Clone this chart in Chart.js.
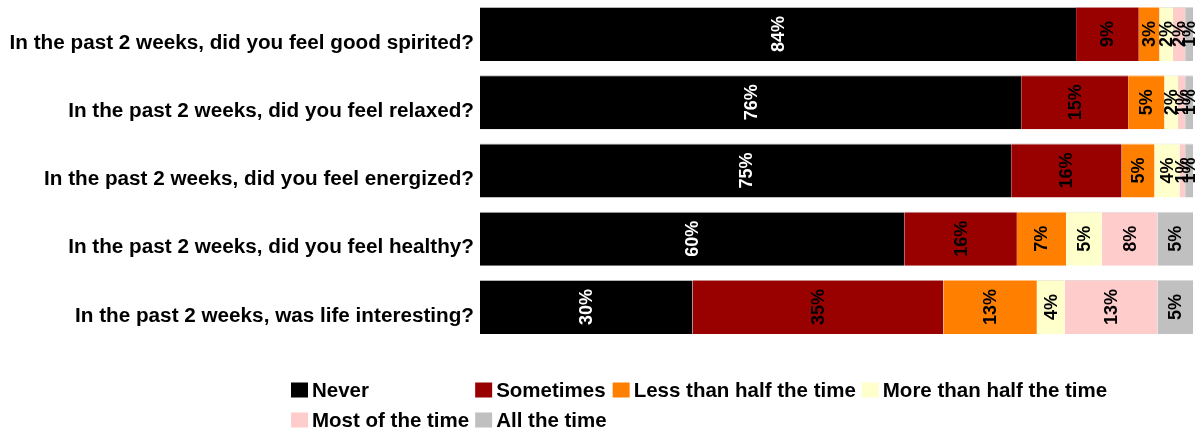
<!DOCTYPE html>
<html>
<head>
<meta charset="utf-8">
<script src="https://cdn.jsdelivr.net/npm/chart.js@4.4.1/dist/chart.umd.min.js"></script>
<style>
  html, body { margin: 0; padding: 0; background: #ffffff; }
  #wrap { width: 1201px; height: 432px; position: relative; }
</style>
</head>
<body>
<div id="wrap"><canvas id="chart" width="1201" height="432"></canvas></div>
<script>
// Survey questions (one horizontal bar each)
const questions = [
  'In the past 2 weeks, did you feel good spirited?',
  'In the past 2 weeks, did you feel relaxed?',
  'In the past 2 weeks, did you feel energized?',
  'In the past 2 weeks, did you feel healthy?',
  'In the past 2 weeks, was life interesting?'
];

// Answer categories, in stacking order
const answerNames = [
  'Never',
  'Sometimes',
  'Less than half the time',
  'More than half the time',
  'Most of the time',
  'All the time'
];

// Share of respondents (%) per answer, one value per question
const never         = [83.6, 75.9, 74.5, 59.5, 29.8];
const sometimes     = [8.8, 15.0, 15.5, 15.8, 35.2];
const lessThanHalf  = [2.9, 5.1, 4.6, 6.9, 13.1];
const moreThanHalf  = [1.9, 1.9, 3.5, 5.0, 3.9];
const mostOfTheTime = [1.7, 1.0, 0.8, 7.8, 13.0];
const allTheTime    = [1.1, 1.1, 1.1, 5.0, 5.0];

const seriesValues = [never, sometimes, lessThanHalf, moreThanHalf, mostOfTheTime, allTheTime];

const fillColors  = ['#000000', '#990000', '#ff8000', '#ffffcc', '#ffcccc', '#c0c0c0'];
const edgeColors  = ['#b4b4b4', '#c98a8a', '#ffbf80', '#ececd4', '#ecd6d6', '#dadada'];
const labelColors = ['#ffffff', '#000000', '#000000', '#000000', '#000000', '#000000'];

const FONT_FAMILY = '"Liberation Sans", Arial, Helvetica, sans-serif';

// Percentage text, rotated, in the middle of every segment
const segmentLabels = {
  id: 'segmentLabels',
  afterDatasetsDraw(chart) {
    const ctx = chart.ctx;
    ctx.save();
    ctx.font = 'bold 18px ' + FONT_FAMILY;
    ctx.textAlign = 'center';
    ctx.textBaseline = 'middle';
    chart.data.datasets.forEach((ds, di) => {
      const meta = chart.getDatasetMeta(di);
      meta.data.forEach((bar, i) => {
        const v = ds.data[i];
        const cx = (bar.x + bar.base) / 2;
        ctx.save();
        ctx.translate(cx, bar.y);
        ctx.rotate(-Math.PI / 2);
        ctx.fillStyle = labelColors[di];
        ctx.fillText(Math.round(v) + '%', 0, 1);
        ctx.restore();
      });
    });
    ctx.restore();
  }
};

// Legend laid out as a grid: columns share the width of their widest entry
const gridLegend = {
  id: 'gridLegend',
  afterDraw(chart) {
    const ctx = chart.ctx;
    const perRow = 4;
    const left = 291;
    const rowCenters = [391, 421];
    const box = 17, boxH = 15, textGap = 4, colGap = 6;
    ctx.save();
    ctx.font = 'bold 20.5px ' + FONT_FAMILY;
    ctx.textBaseline = 'middle';
    ctx.textAlign = 'left';
    const items = chart.data.datasets.map(ds => ({ text: ds.label, color: ds.backgroundColor }));
    const widths = items.map(it => box + textGap + ctx.measureText(it.text).width);
    const colW = [];
    items.forEach((it, k) => {
      const c = k % perRow;
      colW[c] = Math.max(colW[c] || 0, widths[k]);
    });
    items.forEach((it, k) => {
      const r = Math.floor(k / perRow), c = k % perRow;
      let x = left;
      for (let j = 0; j < c; j++) x += colW[j] + colGap;
      const y = rowCenters[r];
      ctx.fillStyle = it.color;
      ctx.fillRect(x, y - boxH / 2 - 1, box, boxH);
      ctx.fillStyle = '#000000';
      ctx.fillText(it.text, x + box + textGap, y);
    });
    ctx.restore();
  }
};

const datasets = answerNames.map((name, k) => ({
  label: name,
  data: seriesValues[k],
  backgroundColor: fillColors[k],
  borderColor: edgeColors[k],
  borderWidth: { top: 1, right: 0, bottom: 0, left: 0 },
  borderSkipped: false
}));

new Chart(document.getElementById('chart'), {
  type: 'bar',
  data: { labels: questions, datasets },
  options: {
    indexAxis: 'y',
    responsive: false,
    animation: false,
    layout: { padding: { top: 0, right: 8, bottom: 91, left: 0 } },
    datasets: { bar: { barPercentage: 0.792, categoryPercentage: 1 } },
    plugins: {
      legend: { display: false },
      tooltip: { enabled: false }
    },
    scales: {
      x: { stacked: true, min: 0, max: 100, display: false },
      y: {
        stacked: true,
        grid: { display: false, drawTicks: false },
        border: { display: false },
        ticks: {
          color: '#000000',
          autoSkip: false,
          padding: 6,
          labelOffset: 9,
          font: { family: FONT_FAMILY, weight: 'bold', size: 20.7 }
        },
        afterFit(scale) {
          scale.width = 480;
          scale.paddingTop = 0;
          scale.paddingBottom = 0;
        }
      }
    }
  },
  plugins: [segmentLabels, gridLegend]
});
</script>
</body>
</html>
